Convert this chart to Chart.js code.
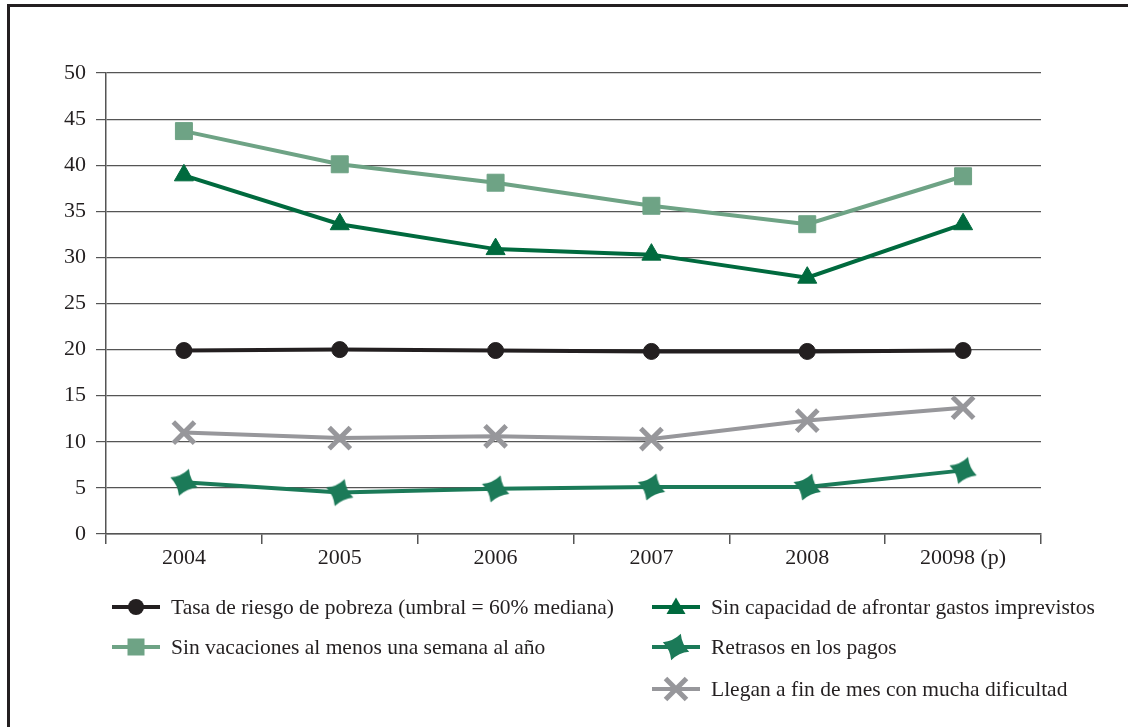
<!DOCTYPE html>
<html>
<head>
<meta charset="utf-8">
<script src="https://cdn.jsdelivr.net/npm/chart.js@4.4.1/dist/chart.umd.min.js"></script>
<style>
  html, body { margin: 0; padding: 0; background: #fff; overflow: hidden; }
  body { width: 1128px; height: 727px; position: relative; font-family: "Liberation Serif", "DejaVu Serif", serif; }
  #frame { position: absolute; left: 7px; top: 4px; width: 1300px; height: 900px;
           border-top: 3px solid #231f20; border-left: 3px solid #231f20; }
  #wrap { position: absolute; left: 0; top: 0; width: 1128px; height: 580px; }
  #legend { position: absolute; left: 0; top: 0; width: 1128px; height: 727px; pointer-events: none; }
  .item { position: absolute; display: flex; align-items: center; font-size: 21.5px; color: #231f20; white-space: nowrap; }
  .item svg { margin-right: 11px; }
</style>
</head>
<body>
<div id="frame"></div>
<div id="wrap"><canvas id="chart"></canvas></div>
<div id="legend"></div>
<script>
const years = ['2004', '2005', '2006', '2007', '2008', '20098 (p)'];
const tasaPobreza = [19.9, 20.0, 19.9, 19.8, 19.8, 19.9];
const sinCapacidad = [38.9, 33.6, 30.9, 30.3, 27.8, 33.6];
const sinVacaciones = [43.7, 40.1, 38.1, 35.6, 33.6, 38.8];
const retrasos = [5.6, 4.5, 4.9, 5.1, 5.1, 6.9];
const llegan = [11.0, 10.4, 10.6, 10.3, 12.3, 13.7];
const yTicks = [0, 5, 10, 15, 20, 25, 30, 35, 40, 45, 50];

const colBlack = '#231f20';
const colDark = '#006a3e';
const colLight = '#6ea385';
const colStar = '#1b7a58';
const colGrey = '#97979b';

// four pointed star with concave sides ("Retrasos en los pagos")
const starRot = -Math.PI / 2 + 0.35;
const starInner = 0.45;
function starPath(ctx, cx, cy, r, rot) {
  ctx.beginPath();
  for (let i = 0; i < 4; i++) {
    const a = rot + i * Math.PI / 2;
    const b = a + Math.PI / 4;
    const n = a + Math.PI / 2;
    if (i === 0) ctx.moveTo(cx + Math.cos(a) * r, cy + Math.sin(a) * r);
    ctx.quadraticCurveTo(cx + Math.cos(b) * r * starInner, cy + Math.sin(b) * r * starInner,
                         cx + Math.cos(n) * r, cy + Math.sin(n) * r);
  }
  ctx.closePath();
}
const starImg = document.createElement('canvas');
starImg.width = 32; starImg.height = 32;
(function () {
  const c = starImg.getContext('2d');
  c.fillStyle = colStar;
  starPath(c, 16, 16, 14.5, starRot);
  c.fill();
})();

function ds(label, data, color, style, radius, extra) {
  return Object.assign({
    label: label, data: data, borderColor: color, backgroundColor: color,
    borderWidth: 4, pointStyle: style, pointRadius: radius, pointHoverRadius: radius,
    pointBorderColor: color, pointBackgroundColor: color, pointBorderWidth: 1,
    tension: 0, fill: false
  }, extra || {});
}

const ctx = document.getElementById('chart').getContext('2d');
const chart = new Chart(ctx, {
  type: 'line',
  data: {
    labels: years,
    datasets: [
      ds('Llegan a fin de mes con mucha dificultad', llegan, colGrey, 'crossRot', 15, { pointBorderWidth: 5 }),
      ds('Retrasos en los pagos', retrasos, colStar, starImg, 14),
      ds('Tasa de riesgo de pobreza (umbral = 60% mediana)', tasaPobreza, colBlack, 'circle', 8),
      ds('Sin capacidad de afrontar gastos imprevistos', sinCapacidad, colDark, 'triangle', 11),
      ds('Sin vacaciones al menos una semana al año', sinVacaciones, colLight, 'rect', 12)
    ]
  },
  options: {
    responsive: true,
    maintainAspectRatio: false,
    animation: false,
    layout: { padding: { left: 46, right: 87, top: 73, bottom: 0 } },
    plugins: { legend: { display: false }, tooltip: { enabled: false } },
    scales: {
      x: {
        offset: true,
        grid: { offset: true, drawOnChartArea: false, tickLength: 10, color: '#555', lineWidth: 1.5 },
        border: { color: '#555', width: 1.5 },
        ticks: { color: colBlack, padding: 1, font: { family: 'Liberation Serif', size: 22 } },
        afterFit: s => { s.height = 46; }
      },
      y: {
        min: 0, max: 50,
        afterBuildTicks: s => { s.ticks = yTicks.map(v => ({ value: v })); },
        grid: { color: '#555', lineWidth: 1.2, tickLength: 10 },
        border: { color: '#555', width: 1.5 },
        ticks: { color: colBlack, padding: 10, font: { family: 'Liberation Serif', size: 22 } },
        afterFit: s => { s.width = 60; }
      }
    }
  }
});

// legend, two columns like the original
function icon(kind, color) {
  let m = '';
  if (kind === 'circle') m = `<circle cx="24" cy="14" r="8" fill="${color}"/>`;
  if (kind === 'triangle') m = `<polygon points="24,4.5 33.5,21 14.5,21" fill="${color}"/>`;
  if (kind === 'rect') m = `<rect x="15.5" y="5.5" width="17" height="17" fill="${color}"/>`;
  if (kind === 'star') {
    let d = '';
    for (let i = 0; i < 4; i++) {
      const a = starRot + i * Math.PI / 2, b = a + Math.PI / 4, n = a + Math.PI / 2;
      if (i === 0) d += `M${(24 + Math.cos(a) * 14).toFixed(1)} ${(14 + Math.sin(a) * 14).toFixed(1)} `;
      d += `Q${(24 + Math.cos(b) * 14 * starInner).toFixed(1)} ${(14 + Math.sin(b) * 14 * starInner).toFixed(1)} ` +
           `${(24 + Math.cos(n) * 14).toFixed(1)} ${(14 + Math.sin(n) * 14).toFixed(1)} `;
    }
    m = `<path d="${d}Z" fill="${color}"/>`;
  }
  if (kind === 'cross') m = `<path d="M13.5 3.5 L34.5 24.5 M34.5 3.5 L13.5 24.5" stroke="${color}" stroke-width="5"/>`;
  return `<svg width="48" height="28" viewBox="0 0 48 28"><line x1="0" y1="14" x2="48" y2="14" stroke="${color}" stroke-width="4"/>${m}</svg>`;
}
const legendItems = [
  { x: 112, y: 607, kind: 'circle', color: colBlack, text: 'Tasa de riesgo de pobreza (umbral = 60% mediana)' },
  { x: 652, y: 607, kind: 'triangle', color: colDark, text: 'Sin capacidad de afrontar gastos imprevistos' },
  { x: 112, y: 647, kind: 'rect', color: colLight, text: 'Sin vacaciones al menos una semana al año' },
  { x: 652, y: 647, kind: 'star', color: colStar, text: 'Retrasos en los pagos' },
  { x: 652, y: 689, kind: 'cross', color: colGrey, text: 'Llegan a fin de mes con mucha dificultad' }
];
const legendEl = document.getElementById('legend');
legendItems.forEach(it => {
  const d = document.createElement('div');
  d.className = 'item';
  d.style.left = it.x + 'px';
  d.style.top = (it.y - 14) + 'px';
  d.innerHTML = icon(it.kind, it.color) + '<span>' + it.text + '</span>';
  legendEl.appendChild(d);
});
</script>
</body>
</html>
